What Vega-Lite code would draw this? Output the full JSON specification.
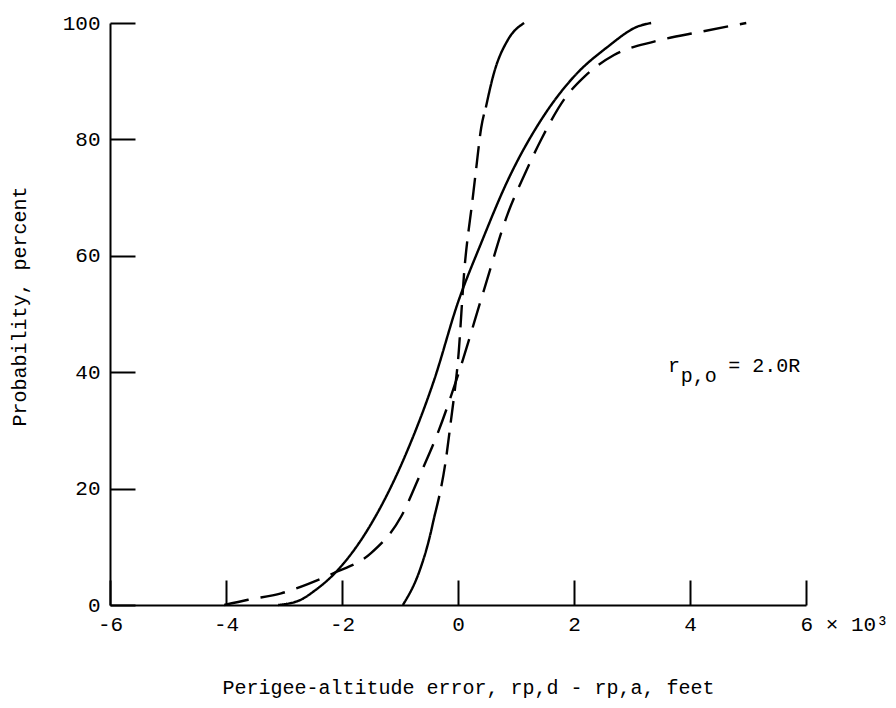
{
  "$schema": "https://vega.github.io/schema/vega-lite/v6.json",
  "width": 696,
  "height": 582,
  "autosize": {"type": "none"},
  "padding": {"left": 110, "top": 23, "right": 90, "bottom": 103},
  "background": "white",
  "config": {
    "view": {"stroke": null},
    "font": "Liberation Mono",
    "text": {"font": "Liberation Mono"}
  },
  "datasets": {
    "curves": [
      {"series": "solid", "x": -3.1, "y": 0},
      {"series": "solid", "x": -2.71, "y": 0.9},
      {"series": "solid", "x": -2.48, "y": 2.4},
      {"series": "solid", "x": -2.14, "y": 5.3},
      {"series": "solid", "x": -1.56, "y": 12.9},
      {"series": "solid", "x": -0.87, "y": 26.6},
      {"series": "solid", "x": -0.41, "y": 38.7},
      {"series": "solid", "x": 0.0, "y": 52.0},
      {"series": "solid", "x": 0.4, "y": 62.2},
      {"series": "solid", "x": 0.86, "y": 73.0},
      {"series": "solid", "x": 1.43, "y": 83.3},
      {"series": "solid", "x": 2.0, "y": 90.8},
      {"series": "solid", "x": 2.58, "y": 95.9},
      {"series": "solid", "x": 3.1, "y": 99.4},
      {"series": "solid", "x": 3.33, "y": 100},

      {"series": "dashed", "x": -4.03, "y": 0},
      {"series": "dashed", "x": -3.62, "y": 0.9},
      {"series": "dashed", "x": -3.05, "y": 2.0},
      {"series": "dashed", "x": -2.59, "y": 3.6},
      {"series": "dashed", "x": -2.14, "y": 5.5},
      {"series": "dashed", "x": -1.5, "y": 8.9},
      {"series": "dashed", "x": -0.98, "y": 15.2},
      {"series": "dashed", "x": -0.64, "y": 22.7},
      {"series": "dashed", "x": -0.35, "y": 29.5},
      {"series": "dashed", "x": 0.0, "y": 39.5},
      {"series": "dashed", "x": 0.45, "y": 54.2},
      {"series": "dashed", "x": 0.86, "y": 67.3},
      {"series": "dashed", "x": 1.14, "y": 73.8},
      {"series": "dashed", "x": 1.43, "y": 79.9},
      {"series": "dashed", "x": 1.86, "y": 87.3},
      {"series": "dashed", "x": 2.18, "y": 90.8},
      {"series": "dashed", "x": 2.69, "y": 94.5},
      {"series": "dashed", "x": 3.38, "y": 96.8},
      {"series": "dashed", "x": 4.19, "y": 98.5},
      {"series": "dashed", "x": 4.97, "y": 100},

      {"series": "steep lower", "x": -0.95, "y": 0},
      {"series": "steep lower", "x": -0.64, "y": 6.5},
      {"series": "steep lower", "x": -0.5, "y": 11.2},
      {"series": "steep lower", "x": -0.41, "y": 15.1},

      {"series": "steep middle", "x": -0.41, "y": 15.1},
      {"series": "steep middle", "x": -0.21, "y": 24.9},
      {"series": "steep middle", "x": -0.12, "y": 31.8},
      {"series": "steep middle", "x": -0.06, "y": 36.5},
      {"series": "steep middle", "x": 0.0, "y": 42.0},
      {"series": "steep middle", "x": 0.11, "y": 57.6},
      {"series": "steep middle", "x": 0.25, "y": 69.6},
      {"series": "steep middle", "x": 0.31, "y": 74.7},
      {"series": "steep middle", "x": 0.4, "y": 82.0},
      {"series": "steep middle", "x": 0.48, "y": 85.5},

      {"series": "steep upper", "x": 0.48, "y": 85.5},
      {"series": "steep upper", "x": 0.62, "y": 91.4},
      {"series": "steep upper", "x": 0.86, "y": 97.1},
      {"series": "steep upper", "x": 1.14, "y": 100}
    ],
    "note": [
      {"x": 3.62, "y": 40.0, "text": "r"},
      {"x": 4.66, "y": 40.0, "text": "= 2.0R"}
    ],
    "noteSub": [
      {"x": 3.84, "y": 38.4, "text": "p,o"}
    ]
  },
  "layer": [
    {
      "mark": {"type": "rule", "color": "black", "strokeWidth": 1.6},
      "encoding": {"x": {"datum": 0, "type": "quantitative"}}
    },
    {
      "data": {"name": "curves"},
      "mark": {"type": "line", "color": "black", "strokeWidth": 2.4, "interpolate": "monotone", "strokeCap": "butt"},
      "encoding": {
        "x": {
          "field": "x", "type": "quantitative",
          "scale": {"domain": [-6, 6], "nice": false, "zero": false},
          "axis": {
            "title": "Perigee-altitude error, rp,d - rp,a, feet",
            "values": [-6, -4, -2, 0, 2, 4, 6],
            "grid": false,
            "domainColor": "black", "domainWidth": 2,
            "tickColor": "black", "tickWidth": 2, "tickSize": -25,
            "labelPadding": 33,
            "labelFont": "Liberation Mono", "labelFontSize": 21, "labelColor": "black",
            "labelFlush": false, "labelOverlap": false, "labelBound": false,
            "labelExpr": "datum.value == 6 ? '6 × 10³' : (datum.value < 0 ? '-' + abs(datum.value) : '' + datum.value)",
            "labelAlign": {"condition": {"test": "datum.value == 6", "value": "left"}, "value": "center"},
            "labelOffset": {"condition": {"test": "datum.value == 6", "value": -6}, "value": 0},
            "titleFont": "Liberation Mono", "titleFontSize": 20, "titleFontWeight": "normal", "titleColor": "black",
            "titleX": 358, "titleY": 88, "titleBaseline": "alphabetic"
          }
        },
        "y": {
          "field": "y", "type": "quantitative",
          "scale": {"domain": [0, 100], "nice": false},
          "axis": {
            "title": "Probability, percent",
            "values": [0, 20, 40, 60, 80, 100],
            "grid": false,
            "domainColor": "black", "domainWidth": 2,
            "tickColor": "black", "tickWidth": 2, "tickSize": -25,
            "labelPadding": 35,
            "labelFont": "Liberation Mono", "labelFontSize": 21, "labelColor": "black",
            "labelOverlap": false, "labelBound": false, "labelFlush": false,
            "titleFont": "Liberation Mono", "titleFontSize": 20, "titleFontWeight": "normal", "titleColor": "black",
            "titleX": -85, "titleY": 283, "titleBaseline": "alphabetic"
          }
        },
        "detail": {"field": "series"},
        "strokeDash": {
          "field": "series", "type": "nominal",
          "scale": {
            "domain": ["solid", "dashed", "steep lower", "steep middle", "steep upper"],
            "range": [[1, 0], [25, 12], [1, 0], [22, 10], [1, 0]]
          },
          "legend": null
        }
      }
    },
    {
      "data": {"name": "note"},
      "mark": {"type": "text", "align": "left", "baseline": "alphabetic", "fontSize": 20, "color": "black", "font": "Liberation Mono"},
      "encoding": {
        "x": {"field": "x", "type": "quantitative"},
        "y": {"field": "y", "type": "quantitative"},
        "text": {"field": "text"}
      }
    },
    {
      "data": {"name": "noteSub"},
      "mark": {"type": "text", "align": "left", "baseline": "alphabetic", "fontSize": 20, "color": "black", "font": "Liberation Mono"},
      "encoding": {
        "x": {"field": "x", "type": "quantitative"},
        "y": {"field": "y", "type": "quantitative"},
        "text": {"field": "text"}
      }
    }
  ]
}
